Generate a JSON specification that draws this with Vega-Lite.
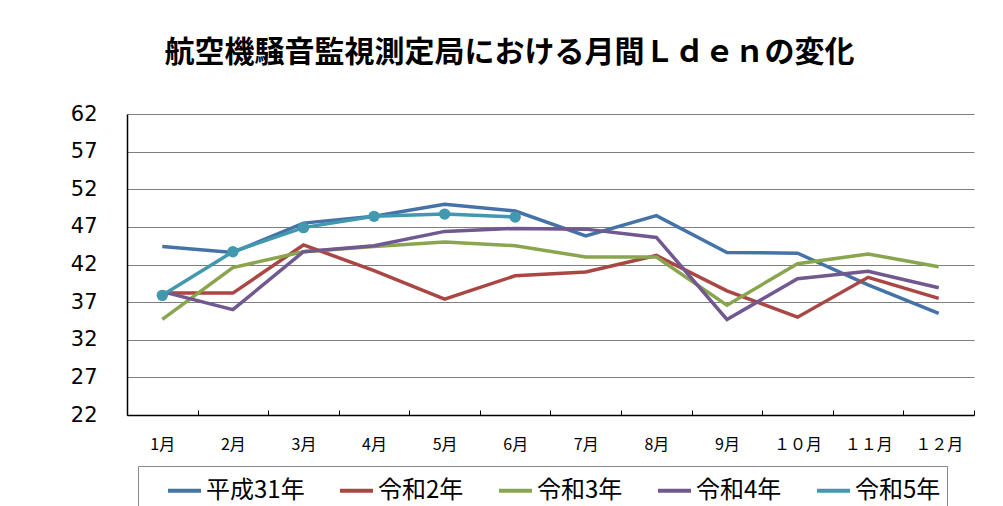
{
  "$schema": "https://vega.github.io/schema/vega-lite/v6.json",
  "width": 847,
  "height": 301,
  "autosize": "none",
  "padding": {"left": 127, "top": 114, "right": 29, "bottom": 91},
  "background": "white",
  "title": {
    "text": "航空機騒音監視測定局における月間Ｌｄｅｎの変化",
    "font": "Noto Sans CJK JP",
    "fontSize": 30,
    "fontWeight": "bold",
    "color": "#000000",
    "anchor": "middle",
    "dx": -41,
    "offset": 35
  },
  "config": {
    "view": {"stroke": null},
    "font": "Noto Sans CJK JP"
  },
  "data": {
    "values": [
      {"month": "1月", "series": "平成31年", "value": 44.4},
      {"month": "2月", "series": "平成31年", "value": 43.6},
      {"month": "3月", "series": "平成31年", "value": 47.5},
      {"month": "4月", "series": "平成31年", "value": 48.4},
      {"month": "5月", "series": "平成31年", "value": 50.0},
      {"month": "6月", "series": "平成31年", "value": 49.1},
      {"month": "7月", "series": "平成31年", "value": 45.8},
      {"month": "8月", "series": "平成31年", "value": 48.5},
      {"month": "9月", "series": "平成31年", "value": 43.6},
      {"month": "１０月", "series": "平成31年", "value": 43.5},
      {"month": "１１月", "series": "平成31年", "value": 39.3},
      {"month": "１２月", "series": "平成31年", "value": 35.5},
      {"month": "1月", "series": "令和2年", "value": 38.2},
      {"month": "2月", "series": "令和2年", "value": 38.2},
      {"month": "3月", "series": "令和2年", "value": 44.6},
      {"month": "4月", "series": "令和2年", "value": 41.2},
      {"month": "5月", "series": "令和2年", "value": 37.4},
      {"month": "6月", "series": "令和2年", "value": 40.5},
      {"month": "7月", "series": "令和2年", "value": 41.0},
      {"month": "8月", "series": "令和2年", "value": 43.2},
      {"month": "9月", "series": "令和2年", "value": 38.5},
      {"month": "１０月", "series": "令和2年", "value": 35.0},
      {"month": "１１月", "series": "令和2年", "value": 40.3},
      {"month": "１２月", "series": "令和2年", "value": 37.5},
      {"month": "1月", "series": "令和3年", "value": 34.7},
      {"month": "2月", "series": "令和3年", "value": 41.6},
      {"month": "3月", "series": "令和3年", "value": 43.7},
      {"month": "4月", "series": "令和3年", "value": 44.4},
      {"month": "5月", "series": "令和3年", "value": 45.0},
      {"month": "6月", "series": "令和3年", "value": 44.5},
      {"month": "7月", "series": "令和3年", "value": 43.0},
      {"month": "8月", "series": "令和3年", "value": 43.0},
      {"month": "9月", "series": "令和3年", "value": 36.6},
      {"month": "１０月", "series": "令和3年", "value": 42.1},
      {"month": "１１月", "series": "令和3年", "value": 43.4},
      {"month": "１２月", "series": "令和3年", "value": 41.7},
      {"month": "1月", "series": "令和4年", "value": 38.4},
      {"month": "2月", "series": "令和4年", "value": 36.0},
      {"month": "3月", "series": "令和4年", "value": 43.7},
      {"month": "4月", "series": "令和4年", "value": 44.5},
      {"month": "5月", "series": "令和4年", "value": 46.4},
      {"month": "6月", "series": "令和4年", "value": 46.8},
      {"month": "7月", "series": "令和4年", "value": 46.7},
      {"month": "8月", "series": "令和4年", "value": 45.6},
      {"month": "9月", "series": "令和4年", "value": 34.7},
      {"month": "１０月", "series": "令和4年", "value": 40.1},
      {"month": "１１月", "series": "令和4年", "value": 41.1},
      {"month": "１２月", "series": "令和4年", "value": 38.9},
      {"month": "1月", "series": "令和5年", "value": 37.9},
      {"month": "2月", "series": "令和5年", "value": 43.7},
      {"month": "3月", "series": "令和5年", "value": 46.9},
      {"month": "4月", "series": "令和5年", "value": 48.4},
      {"month": "5月", "series": "令和5年", "value": 48.7},
      {"month": "6月", "series": "令和5年", "value": 48.3}
    ]
  },
  "encoding": {
    "x": {
      "field": "month",
      "type": "ordinal",
      "sort": ["1月", "2月", "3月", "4月", "5月", "6月", "7月", "8月", "9月", "１０月", "１１月", "１２月"],
      "scale": {"paddingInner": 0, "paddingOuter": 0},
      "axis": {
        "title": null,
        "labelAngle": 0,
        "labelFont": "Noto Sans CJK JP",
        "labelFontSize": 16,
        "labelColor": "#000000",
        "labelPadding": 26,
        "domainColor": "#000000",
        "domainWidth": 1.5,
        "tickColor": "#000000",
        "tickBand": "extent",
        "tickSize": -5,
        "tickWidth": 1
      }
    },
    "y": {
      "field": "value",
      "type": "quantitative",
      "scale": {"domain": [22, 62], "nice": false, "zero": false},
      "axis": {
        "title": null,
        "values": [22, 27, 32, 37, 42, 47, 52, 57, 62],
        "labelFont": "DejaVu Sans",
        "labelFontSize": 21,
        "labelColor": "#000000",
        "labelPadding": 30,
        "ticks": false,
        "domainColor": "#000000",
        "domainWidth": 1.5,
        "gridColor": "#7f7f7f",
        "gridWidth": 1
      }
    },
    "color": {
      "field": "series",
      "type": "nominal",
      "scale": {
        "domain": ["平成31年", "令和2年", "令和3年", "令和4年", "令和5年"],
        "range": ["#4572A7", "#AA4643", "#89A54E", "#71588F", "#4198AF"]
      },
      "legend": {
        "title": "平",
        "titleOpacity": 0,
        "titleOrient": "left",
        "titleAngle": 0,
        "titleFontSize": 18,
        "titlePadding": 4,
        "orient": "none",
        "legendX": 11,
        "legendY": 352,
        "direction": "horizontal",
        "columns": 5,
        "symbolType": "stroke",
        "symbolSize": 1089,
        "symbolStrokeWidth": 4,
        "labelFont": "Noto Sans CJK JP",
        "labelFontSize": 24,
        "labelColor": "#000000",
        "labelOffset": 3,
        "columnPadding": 27,
        "padding": 6,
        "strokeColor": "#888888",
        "labelLimit": 300
      }
    }
  },
  "layer": [
    {
      "mark": {"type": "line", "strokeWidth": 3.5}
    },
    {
      "transform": [{"filter": "datum.series === '令和5年'"}],
      "mark": {"type": "point", "filled": true, "opacity": 1, "size": 130, "shape": "circle"}
    }
  ]
}
